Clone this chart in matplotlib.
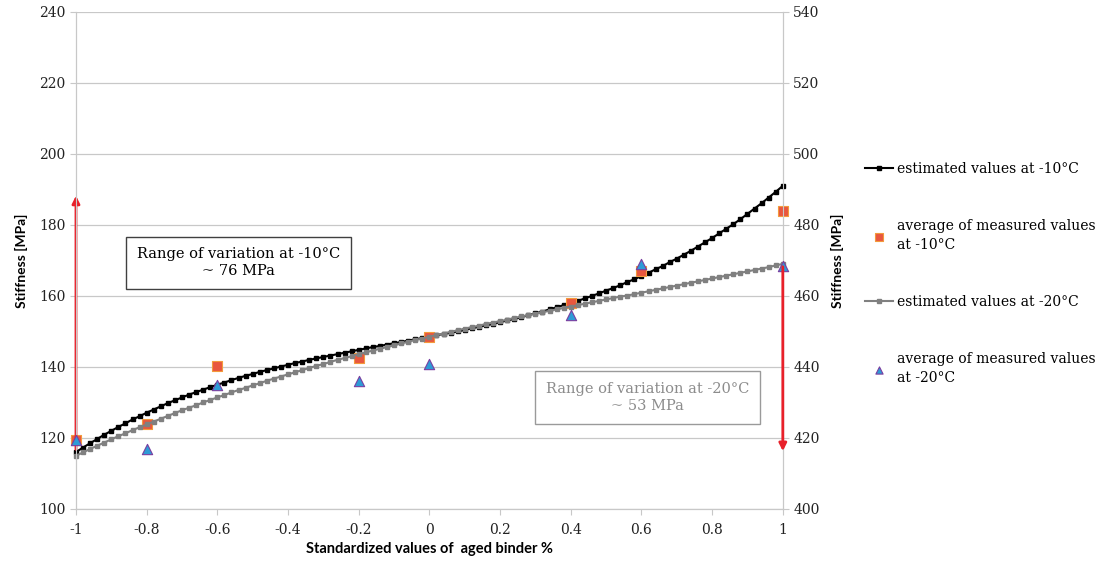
import numpy as np
import matplotlib.pyplot as plt

# binder content axis (standardized), estimated curves sampled every 0.02
x_est = np.linspace(-1, 1, 101)

est_10 = [116.0, 117.3, 118.5, 119.7, 120.9, 122.0, 123.1, 124.1, 125.2, 126.1,
          127.1, 128.0, 128.9, 129.8, 130.6, 131.4, 132.2, 132.9, 133.6, 134.3,
          135.0, 135.6, 136.3, 136.9, 137.5, 138.0, 138.6, 139.1, 139.6, 140.1,
          140.6, 141.1, 141.5, 142.0, 142.4, 142.8, 143.2, 143.6, 144.0, 144.4,
          144.8, 145.2, 145.6, 145.9, 146.3, 146.7, 147.0, 147.4, 147.8, 148.1,
          148.5, 148.9, 149.3, 149.6, 150.0, 150.4, 150.9, 151.3, 151.7, 152.1,
          152.6, 153.1, 153.5, 154.0, 154.6, 155.1, 155.6, 156.2, 156.8, 157.4,
          158.0, 158.6, 159.3, 160.0, 160.7, 161.5, 162.2, 163.0, 163.9, 164.7,
          165.6, 166.5, 167.5, 168.4, 169.5, 170.5, 171.6, 172.7, 173.9, 175.1,
          176.3, 177.6, 178.9, 180.2, 181.6, 183.1, 184.6, 186.1, 187.7, 189.3,
          191.0]

est_20 = [415.0, 415.9, 416.9, 417.8, 418.7, 419.6, 420.5, 421.3, 422.2, 423.0,
          423.8, 424.6, 425.4, 426.2, 427.0, 427.8, 428.5, 429.2, 430.0, 430.7,
          431.4, 432.1, 432.8, 433.5, 434.1, 434.8, 435.4, 436.1, 436.7, 437.3,
          437.9, 438.5, 439.1, 439.7, 440.3, 440.8, 441.4, 442.0, 442.5, 443.0,
          443.6, 444.1, 444.6, 445.1, 445.6, 446.1, 446.6, 447.1, 447.6, 448.0,
          448.5, 449.0, 449.4, 449.9, 450.3, 450.8, 451.2, 451.6, 452.1, 452.5,
          452.9, 453.3, 453.8, 454.2, 454.6, 455.0, 455.4, 455.8, 456.2, 456.6,
          457.0, 457.4, 457.8, 458.2, 458.6, 459.0, 459.4, 459.8, 460.1, 460.5,
          460.9, 461.3, 461.7, 462.1, 462.5, 462.9, 463.3, 463.7, 464.1, 464.5,
          464.9, 465.3, 465.7, 466.1, 466.5, 466.9, 467.3, 467.7, 468.1, 468.6,
          469.0]

# measured averages
x_meas = [-1, -0.8, -0.6, -0.2, 0, 0.4, 0.6, 1]
meas_10 = [119.5, 124.0, 140.2, 142.5, 148.5, 158.0, 167.0, 184.0]
meas_20 = [419.5, 417.0, 435.0, 436.0, 440.8, 454.5, 469.0, 468.5]

x_ticks = [-1, -0.8, -0.6, -0.4, -0.2, 0, 0.2, 0.4, 0.6, 0.8, 1]
x_ticklabels = ['-1', '-0.8', '-0.6', '-0.4', '-0.2', '0', '0.2', '0.4', '0.6', '0.8', '1']
range_10 = (116, 189)
range_20 = (469, 415.5)

serif = 'DejaVu Serif'
sans = 'Lato'
grid_c = '#C8C8C8'

fig = plt.figure(figsize=(11.01, 5.63), dpi=100)
ax1 = fig.add_axes([0.069, 0.096, 0.642, 0.883])
ax2 = ax1.twinx()

l1, = ax1.plot(x_est, est_10, color='black', lw=1.5, marker='s', ms=3.5,
               label='estimated values at -10°C', zorder=3, clip_on=False)
s1 = ax1.scatter(x_meas, meas_10, marker='s', s=55, color='#E8573F',
                 edgecolors='#F39A3C', linewidths=0.8, zorder=4, clip_on=False,
                 label='average of measured values\nat -10°C')
l2, = ax2.plot(x_est, est_20, color='#808080', lw=1.5, marker='s', ms=3.5,
               label='estimated values at -20°C', zorder=2, clip_on=False)
s2 = ax2.scatter(x_meas, meas_20, marker='^', s=55, color='#2E9BD6',
                 edgecolors='#7A3FA0', linewidths=0.8, zorder=4, clip_on=False,
                 label='average of measured values\nat -20°C')

# range arrows
ax1.annotate('', xy=(-1, range_10[1]), xytext=(-1, range_10[0]),
             arrowprops=dict(arrowstyle='-|>', color='#E8202A', lw=2, mutation_scale=11),
             zorder=5)
ax2.annotate('', xy=(1, range_20[1]), xytext=(1, range_20[0]),
             arrowprops=dict(arrowstyle='-|>', color='#E8202A', lw=2, mutation_scale=11),
             zorder=5)

ax1.text(-0.54, 169.3, 'Range of variation at -10°C\n~ 76 MPa', ha='center', va='center',
         family=serif, fontsize=10.5, linespacing=1.25,
         bbox=dict(boxstyle='square,pad=0.75', fc='white', ec='#404040', lw=1))
ax1.text(0.618, 131.3, 'Range of variation at -20°C\n~ 53 MPa', ha='center', va='center',
         family=serif, fontsize=10.5, color='#8C8C8C', linespacing=1.25,
         bbox=dict(boxstyle='square,pad=0.75', fc='white', ec='#9A9A9A', lw=1))

ax1.set_xlim(-1, 1)
ax1.set_ylim(100, 240)
ax2.set_ylim(400, 540)
ax1.set_yticks(range(100, 241, 20))
ax2.set_yticks(range(400, 541, 20))
ax1.set_xticks(x_ticks)
ax1.set_xticklabels(x_ticklabels)
ax1.yaxis.grid(True, color=grid_c, lw=0.9)
ax1.set_axisbelow(True)

for ax in (ax1, ax2):
    ax.spines['top'].set_visible(False)
    for side in ('left', 'right', 'bottom'):
        ax.spines[side].set_color(grid_c)
    ax.tick_params(colors='#222222', length=4, labelsize=10, color=grid_c)
    for lab in ax.get_xticklabels() + ax.get_yticklabels():
        lab.set_family(serif)
ax1.tick_params(axis='x', pad=6)

ax1.set_ylabel('Stiffness [MPa]', family=sans, weight='bold', fontsize=10, labelpad=8)
ax2.set_ylabel('Stiffness [MPa]', family=sans, weight='bold', fontsize=10, labelpad=8)
ax1.set_xlabel('Standardized values of  aged binder %', family=sans, weight='bold',
               fontsize=10.5, labelpad=4)

leg = fig.legend(handles=[l1, s1, l2, s2], loc='upper left',
                 bbox_to_anchor=(0.781, 0.723), frameon=False, borderaxespad=0,
                 prop={'family': serif, 'size': 10}, labelspacing=3.1,
                 handlelength=2.0, handletextpad=0.25, numpoints=1, scatterpoints=1,
                 markerscale=0.7)
for t in leg.get_texts():
    t.set_linespacing(1.45)

fig.savefig('out.png', dpi=100)
